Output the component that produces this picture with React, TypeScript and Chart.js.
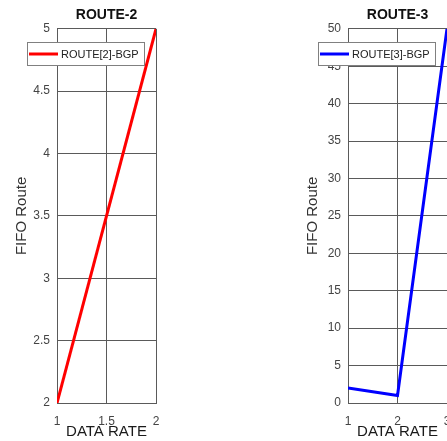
import React, { useEffect, useRef } from "react";
import { Chart, registerables } from "chart.js";

Chart.register(...registerables);

// ---- data ----
const route2X = [1, 2];
const route2Y = [2, 5];
const route3X = [1, 2, 3];
const route3Y = [2, 1, 50];
const route2Label = "ROUTE[2]-BGP";
const route3Label = "ROUTE[3]-BGP";
const route2Title = "ROUTE-2";
const route3Title = "ROUTE-3";
const xAxisTitle = "DATA RATE";
const yAxisTitle = "FIFO Route";

const FONT = '"Liberation Sans", Arial, sans-serif';

const fmt = (v: any) => String(Number(Number(v).toFixed(2)));

const boxLegend = {
  id: "boxLegend",
  afterDraw(chart: any, _args: any, opts: any) {
    const ctx = chart.ctx;
    const ds = chart.data.datasets[0];
    const { x, y, w, h } = opts;
    ctx.save();
    ctx.fillStyle = "#ffffff";
    ctx.fillRect(x, y, w, h);
    ctx.strokeStyle = "#808080";
    ctx.lineWidth = 1;
    ctx.strokeRect(x + 0.5, y + 0.5, w, h);
    ctx.strokeStyle = ds.borderColor;
    ctx.lineWidth = 3;
    ctx.beginPath();
    ctx.moveTo(x + 2, y + h / 2 + 0.5);
    ctx.lineTo(x + 31, y + h / 2 + 0.5);
    ctx.stroke();
    ctx.fillStyle = "#222222";
    ctx.font = "11px " + FONT;
    ctx.textBaseline = "middle";
    ctx.textAlign = "left";
    ctx.fillText(ds.label, x + 34, y + h / 2 + 1);
    ctx.restore();
  },
};

function makeConfig(
  xs: number[],
  ys: number[],
  label: string,
  color: string,
  title: string,
  xMin: number,
  xMax: number,
  xStep: number,
  yMin: number,
  yMax: number,
  yStep: number
): any {
  return {
    type: "line",
    data: {
      datasets: [
        {
          label,
          data: xs.map((x, i) => ({ x, y: ys[i] })),
          borderColor: color,
          backgroundColor: color,
          borderWidth: 3,
          pointRadius: 0,
          tension: 0,
          fill: false,
        },
      ],
    },
    options: {
      responsive: false,
      animation: false,
      layout: { padding: { left: 0, right: 58, top: 0, bottom: 0 } },
      plugins: {
        legend: { display: false },
        tooltip: { enabled: false },
        title: {
          display: true,
          fullSize: false,
          text: title,
          color: "#111111",
          font: { family: FONT, size: 14, weight: "bold" },
          padding: { top: 7, bottom: 5 },
        },
        boxLegend: { x: 27, y: 42, w: 117, h: 23 },
      },
      scales: {
        x: {
          type: "linear",
          min: xMin,
          max: xMax,
          afterFit: (s: any) => {
            s.height = 38;
          },
          ticks: {
            stepSize: xStep,
            color: "#444444",
            font: { family: FONT, size: 12 },
            padding: 11,
            maxRotation: 0,
            callback: fmt,
          },
          grid: { color: "#5a5a5a", lineWidth: 1, drawTicks: false },
          border: { display: true, color: "#5a5a5a" },
          title: {
            display: true,
            text: xAxisTitle,
            color: "#1a1a1a",
            font: { family: FONT, size: 15 },
            padding: { top: 0, bottom: 0 },
          },
        },
        y: {
          type: "linear",
          min: yMin,
          max: yMax,
          afterFit: (s: any) => {
            s.width = 57;
          },
          ticks: {
            stepSize: yStep,
            color: "#444444",
            font: { family: FONT, size: 12 },
            padding: 7,
            callback: fmt,
          },
          grid: { color: "#5a5a5a", lineWidth: 1, drawTicks: false },
          border: { display: true, color: "#5a5a5a" },
          title: {
            display: true,
            text: yAxisTitle,
            color: "#333333",
            font: { family: FONT, size: 15 },
            padding: { top: 13, bottom: 0 },
          },
        },
      },
    },
    plugins: [boxLegend],
  };
}

function ChartCanvas({ config, left }: { config: any; left: number }) {
  const ref = useRef<HTMLCanvasElement | null>(null);
  useEffect(() => {
    if (!ref.current) return;
    const chart = new Chart(ref.current, config);
    return () => chart.destroy();
  }, [config]);
  return (
    <canvas
      ref={ref}
      width={214}
      height={441}
      style={{ position: "absolute", left, top: 0, width: 214, height: 441, display: "block" }}
    />
  );
}

const config2 = makeConfig(route2X, route2Y, route2Label, "#ff0000", route2Title, 1, 2, 0.5, 2, 5, 0.5);
const config3 = makeConfig(route3X, route3Y, route3Label, "#0000ff", route3Title, 1, 3, 1, 0, 50, 5);

export default function App() {
  return (
    <div
      style={{
        position: "absolute",
        left: 0,
        top: 0,
        width: 447,
        height: 441,
        overflow: "hidden",
        background: "#ffffff",
      }}
    >
      <ChartCanvas config={config2} left={0} />
      <ChartCanvas config={config3} left={291} />
    </div>
  );
}
